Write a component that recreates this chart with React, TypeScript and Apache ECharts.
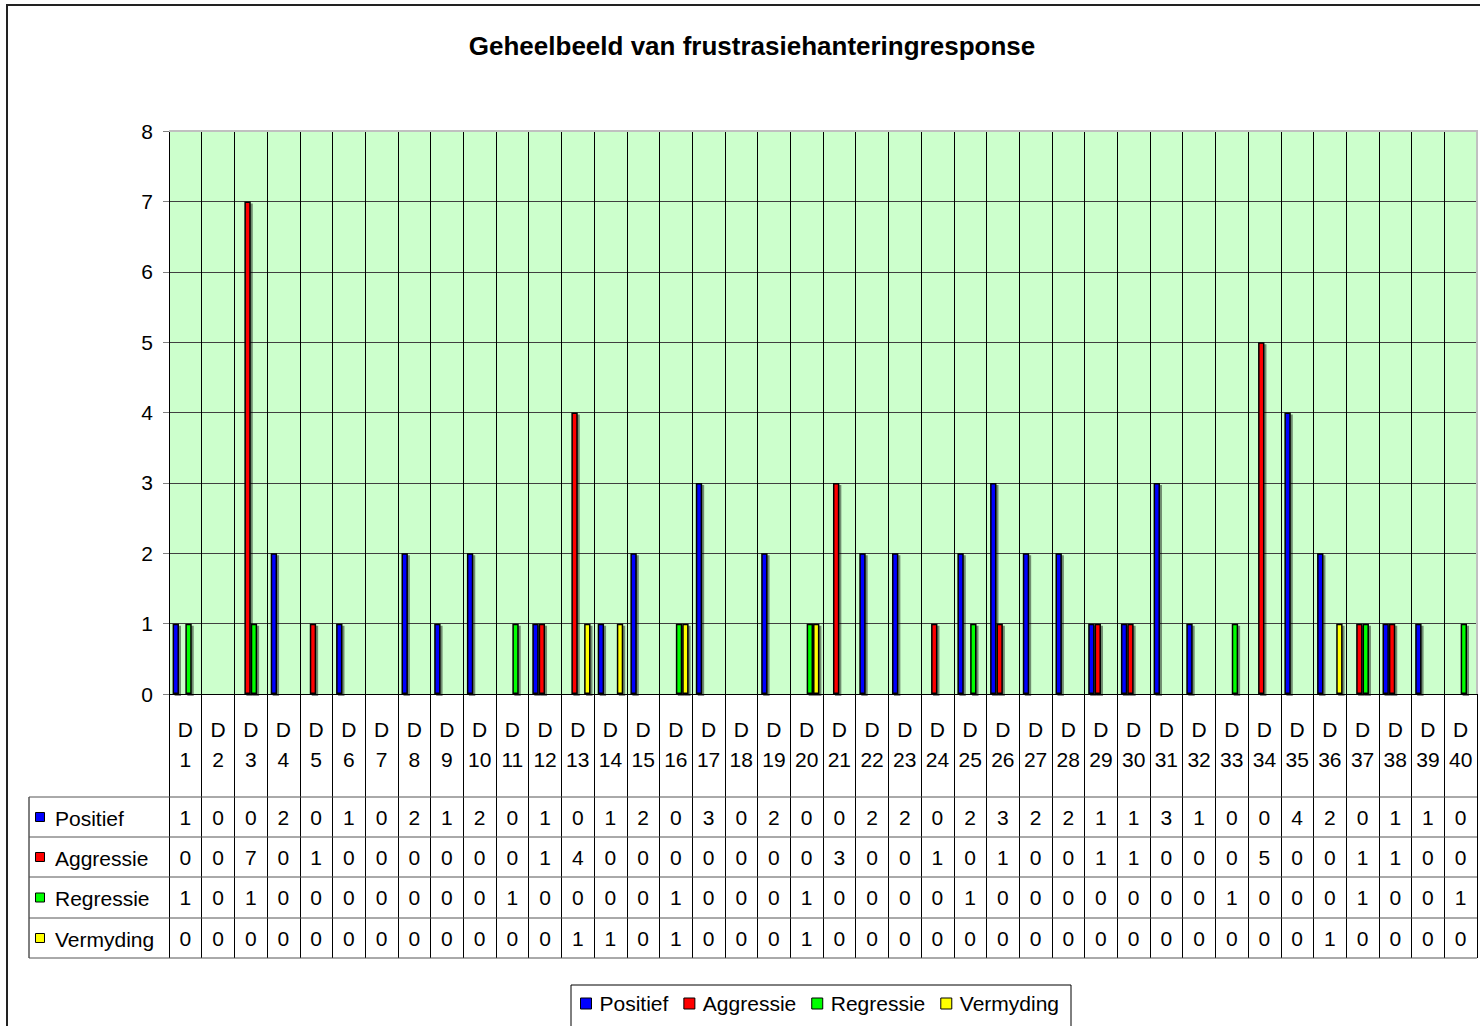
import React, { useEffect, useRef } from "react";
import * as echarts from "echarts";

const TITLE = "Geheelbeeld van frustrasiehanteringresponse";
const DAYS = [
  "D1", "D2", "D3", "D4", "D5", "D6", "D7", "D8", "D9", "D10",
  "D11", "D12", "D13", "D14", "D15", "D16", "D17", "D18", "D19", "D20",
  "D21", "D22", "D23", "D24", "D25", "D26", "D27", "D28", "D29", "D30",
  "D31", "D32", "D33", "D34", "D35", "D36", "D37", "D38", "D39", "D40",
];
const SERIES_NAMES = ["Positief", "Aggressie", "Regressie", "Vermyding"];
const POSITIEF = [1, 0, 0, 2, 0, 1, 0, 2, 1, 2, 0, 1, 0, 1, 2, 0, 3, 0, 2, 0, 0, 2, 2, 0, 2, 3, 2, 2, 1, 1, 3, 1, 0, 0, 4, 2, 0, 1, 1, 0];
const AGGRESSIE = [0, 0, 7, 0, 1, 0, 0, 0, 0, 0, 0, 1, 4, 0, 0, 0, 0, 0, 0, 0, 3, 0, 0, 1, 0, 1, 0, 0, 1, 1, 0, 0, 0, 5, 0, 0, 1, 1, 0, 0];
const REGRESSIE = [1, 0, 1, 0, 0, 0, 0, 0, 0, 0, 1, 0, 0, 0, 0, 1, 0, 0, 0, 1, 0, 0, 0, 0, 1, 0, 0, 0, 0, 0, 0, 0, 1, 0, 0, 0, 1, 0, 0, 1];
const VERMYDING = [0, 0, 0, 0, 0, 0, 0, 0, 0, 0, 0, 0, 1, 1, 0, 1, 0, 0, 0, 1, 0, 0, 0, 0, 0, 0, 0, 0, 0, 0, 0, 0, 0, 0, 0, 1, 0, 0, 0, 0];
const Y_TICKS_MAX = 8;

const VALUES = [POSITIEF, AGGRESSIE, REGRESSIE, VERMYDING];
const COLORS = ["#0000FF", "#FF0000", "#00FF00", "#FFFF00"];
const FONT = "'Liberation Sans', Arial, sans-serif";
const FS = 21;

// layout
const GRID_L = 169;
const GRID_T = 131;
const GRID_R = 1477;
const GRID_B = 694;
const TABLE_L = 29;
const ROW_LINES = [797, 837, 877, 918, 958];

export default function App() {
  const ref = useRef<HTMLDivElement>(null);
  useEffect(() => {
    if (!ref.current) return;
    const chart = echarts.init(ref.current, undefined, { renderer: "svg" });

    const tableAxes = VALUES.map((vals, r) => ({
      type: "category",
      gridIndex: 0,
      data: DAYS,
      position: "bottom",
      offset: (ROW_LINES[r] + ROW_LINES[r + 1]) / 2 - GRID_B,
      axisLine: { show: false },
      axisTick: { show: false },
      splitLine: { show: false },
      axisLabel: {
        interval: 0,
        margin: 0,
        verticalAlign: "middle",
        fontSize: FS,
        fontFamily: FONT,
        color: "#000",
        formatter: (_v: string, i: number) => String(vals[i]),
      },
    }));

    const graphics: any[] = [
      {
        type: "rect",
        shape: { x: 7, y: 5, width: 1600, height: 1200 },
        style: { fill: "none", stroke: "#222", lineWidth: 2 },
        z: 100,
      },
      {
        type: "polyline",
        shape: { points: [[GRID_L, GRID_T], [GRID_R, GRID_T], [GRID_R, GRID_B]] },
        style: { fill: "none", stroke: "#c0c0c0", lineWidth: 2 },
        z: 100,
      },
      {
        type: "line",
        shape: { x1: TABLE_L, y1: ROW_LINES[0], x2: TABLE_L, y2: ROW_LINES[4] },
        style: { stroke: "#000", lineWidth: 1 },
        z: 100,
      },
    ];
    ROW_LINES.forEach((y) => {
      graphics.push({
        type: "line",
        shape: { x1: TABLE_L, y1: y, x2: GRID_R, y2: y },
        style: { stroke: "#555", lineWidth: 1 },
        z: 100,
      });
    });
    SERIES_NAMES.forEach((name, r) => {
      const cy = (ROW_LINES[r] + ROW_LINES[r + 1]) / 2;
      graphics.push({
        type: "rect",
        shape: { x: 35.5, y: cy - 4.5, width: 9, height: 9 },
        style: { fill: COLORS[r], stroke: "#000", lineWidth: 1 },
        z: 100,
      });
      graphics.push({
        type: "text",
        x: 55,
        y: cy + 1,
        style: {
          text: name,
          fontSize: FS,
          fontFamily: FONT,
          fill: "#000",
          textVerticalAlign: "middle",
        },
        z: 100,
      });
    });

    chart.setOption({
      animation: false,
      backgroundColor: "#fff",
      title: {
        text: TITLE,
        left: 752,
        top: 33,
        padding: 0,
        textAlign: "center",
        textStyle: { fontSize: 26, fontWeight: "bold", fontFamily: FONT, color: "#000" },
      },
      legend: {
        data: SERIES_NAMES,
        left: 571,
        top: 985,
        padding: [8, 12, 40, 9],
        itemGap: 15,
        itemWidth: 11,
        itemHeight: 11,
        icon: "rect",
        borderColor: "#000",
        borderWidth: 1,
        itemStyle: { borderColor: "#000", borderWidth: 1 },
        textStyle: { fontSize: FS, fontFamily: FONT, color: "#000", padding: [0, 2, 0, 3] },
      },
      grid: {
        left: GRID_L,
        top: GRID_T,
        width: GRID_R - GRID_L,
        height: GRID_B - GRID_T,
        show: true,
        backgroundColor: "#CCFFCC",
        borderWidth: 0,
      },
      xAxis: [
        {
          type: "category",
          data: DAYS,
          boundaryGap: true,
          axisLine: { show: true, lineStyle: { color: "#000", width: 1 } },
          axisTick: {
            show: true,
            interval: 0,
            length: ROW_LINES[4] - GRID_B,
            lineStyle: { color: "#000", width: 1 },
          },
          splitLine: { show: true, interval: 0, lineStyle: { color: "#000", width: 1 } },
          axisLabel: {
            interval: 0,
            margin: 20,
            lineHeight: 30,
            fontSize: FS,
            fontFamily: FONT,
            color: "#000",
            formatter: (v: string) => "D\n" + v.slice(1),
          },
        },
        ...tableAxes,
      ],
      yAxis: {
        type: "value",
        min: 0,
        max: Y_TICKS_MAX,
        interval: 1,
        axisLine: { show: true, lineStyle: { color: "#000" } },
        axisTick: { show: true, length: 6, lineStyle: { color: "#808080" } },
        splitLine: { show: true, lineStyle: { color: "#404040", width: 1 } },
        axisLabel: { margin: 16, fontSize: FS, fontFamily: FONT, color: "#000" },
      },
      series: SERIES_NAMES.map((name, i) => ({
        name,
        type: "bar",
        xAxisIndex: 0,
        data: VALUES[i].map((v) => (v === 0 ? null : v)),
        barGap: "0%",
        barCategoryGap: "22%",
        itemStyle: {
          color: COLORS[i],
          borderColor: "#000",
          borderWidth: 1.5,
          shadowColor: "rgba(0,0,0,0.45)",
          shadowOffsetX: 2,
          shadowOffsetY: 2,
          shadowBlur: 1,
        },
      })),
      graphic: graphics,
    });
    return () => chart.dispose();
  }, []);
  return (
    <div
      ref={ref}
      style={{ position: "fixed", left: 0, top: 0, width: 1480, height: 1026 }}
    />
  );
}
